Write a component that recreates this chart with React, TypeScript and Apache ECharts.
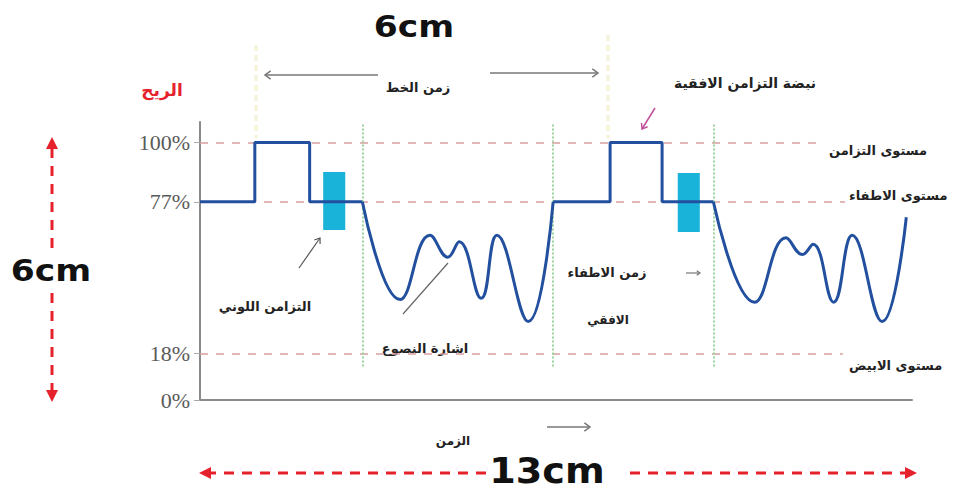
import React, { useEffect, useRef } from "react";
import * as echarts from "echarts";

// Signal trace values (x: time in arbitrary units 0..100, y: percent level)
const sync1X = [0, 7.7, 7.7, 15.4, 15.4, 22.8];
const sync1Y = [77, 77, 100, 100, 77, 77];
const luma1X = [22.8, 28.1, 32.3, 34.8, 36.4, 39.5, 41.7, 46.1, 49.6];
const luma1Y = [77, 39, 64, 55.5, 61.5, 39.5, 64, 30.5, 77];
const sync2X = [49.6, 57.6, 57.6, 64.9, 64.9, 72.1];
const sync2Y = [77, 77, 100, 100, 77, 77];
const luma2X = [72.1, 77.9, 82.3, 84.6, 86.1, 89.0, 91.6, 95.8, 99.2];
const luma2Y = [77, 38, 63, 56.5, 60.5, 38, 64, 30.5, 71];

// Reference levels
const levelTicks = [0, 18, 77, 100];
const syncLevel = 100;
const blankLevel = 77;
const whiteLevel = 18;
const levelEnds = [86.7, 90.6, 90.3]; // sync, blank, white dashed line ends

// Colour burst boxes [x0, y0, x1, y1]
const burst1 = [17.3, 88.6, 20.4, 66.0];
const burst2 = [67.1, 88.2, 70.2, 65.3];

// Vertical markers (green dotted)
const markerX = [22.8, 49.6, 72.1];
const markerTop = 107;
const markerBottom = 13;

const zip = (xs: number[], ys: number[]) => xs.map((x, i) => [x, ys[i]]);

const LINE_COLOR = "#22509e";
const RED = "#e5222c";
const GRAY = "#777";
const AR_FONT = "DejaVu Sans";

function openArrow(x1: number, y1: number, x2: number, y2: number, color: string, w = 1.5, head = 7) {
  const ang = Math.atan2(y2 - y1, x2 - x1);
  const a1 = ang + Math.PI * 0.8;
  const a2 = ang - Math.PI * 0.8;
  return [
    { type: "line", shape: { x1, y1, x2, y2 }, style: { stroke: color, lineWidth: w }, silent: true },
    {
      type: "polyline",
      shape: {
        points: [
          [x2 + head * Math.cos(a1), y2 + head * Math.sin(a1)],
          [x2, y2],
          [x2 + head * Math.cos(a2), y2 + head * Math.sin(a2)],
        ],
      },
      style: { stroke: color, lineWidth: w, fill: "none" },
      silent: true,
    },
  ];
}

function redDashArrow(x1: number, y1: number, x2: number, y2: number) {
  const ang = Math.atan2(y2 - y1, x2 - x1);
  const len = 12;
  const bx = x2 - len * Math.cos(ang);
  const by = y2 - len * Math.sin(ang);
  const px = -Math.sin(ang) * 6;
  const py = Math.cos(ang) * 6;
  return [
    { type: "line", shape: { x1, y1, x2: bx, y2: by }, style: { stroke: RED, lineWidth: 3, lineDash: [10, 8] }, silent: true },
    {
      type: "polygon",
      shape: { points: [[x2, y2], [bx + px, by + py], [bx - px, by - py]] },
      style: { fill: RED },
      silent: true,
    },
  ];
}

function label(text: string, x: number, y: number, opts: any = {}) {
  return {
    type: "text",
    x,
    y,
    scaleX: opts.scaleX ?? 1,
    silent: true,
    style: {
      text,
      fill: opts.color ?? "#222",
      font: `${opts.weight ?? "bold"} ${opts.size ?? 13}px "${opts.family ?? AR_FONT}"`,
      align: opts.align ?? "center",
      verticalAlign: "middle",
    },
  };
}

export default function App() {
  const ref = useRef<HTMLDivElement>(null);

  useEffect(() => {
    if (!ref.current) return;
    const chart = echarts.init(ref.current, null, { renderer: "svg" });

    const lineSeries = (name: string, data: number[][], smooth: boolean | number, extra: any = {}) => ({
      name,
      type: "line",
      data,
      smooth,
      symbol: "none",
      lineStyle: { color: LINE_COLOR, width: 3 },
      z: 5,
      ...extra,
    });

    const dashed = { color: "#d9a0a0", type: [8, 8], width: 1.5 };
    const green = { color: "#9bd39b", type: "dotted", width: 2 };

    const option: any = {
      animation: false,
      backgroundColor: "#fff",
      grid: { left: 200, right: 50, top: 122, bottom: 92 },
      xAxis: {
        type: "value",
        min: 0,
        max: 100,
        axisLine: { show: true, lineStyle: { color: "#8a8a8a", width: 2 } },
        axisTick: { show: false },
        axisLabel: { show: false },
        splitLine: { show: false },
      },
      yAxis: {
        type: "value",
        min: 0,
        max: 108,
        axisLine: { show: true, lineStyle: { color: "#8a8a8a", width: 2 } },
        axisTick: { show: true, customValues: levelTicks, length: 6, lineStyle: { color: "#aaa" } },
        axisLabel: {
          show: true,
          customValues: levelTicks,
          formatter: "{value}%",
          margin: 10,
          fontFamily: "Liberation Serif",
          fontSize: 22,
          color: "#5a5a5a",
        },
        splitLine: { show: false },
      },
      series: [
        lineSeries("sync1", zip(sync1X, sync1Y), false, {
          markLine: {
            silent: true,
            symbol: "none",
            label: { show: false },
            data: [
              [{ coord: [0, syncLevel], lineStyle: dashed }, { coord: [levelEnds[0], syncLevel] }],
              [{ coord: [0, blankLevel], lineStyle: dashed }, { coord: [levelEnds[1], blankLevel] }],
              [{ coord: [0, whiteLevel], lineStyle: dashed }, { coord: [levelEnds[2], whiteLevel] }],
              ...markerX.map((x) => [
                { coord: [x, markerTop], lineStyle: green },
                { coord: [x, markerBottom] },
              ]),
            ],
          },
          markArea: {
            silent: true,
            itemStyle: { color: "#19b3d9", opacity: 1 },
            data: [
              [{ coord: [burst1[0], burst1[1]] }, { coord: [burst1[2], burst1[3]] }],
              [{ coord: [burst2[0], burst2[1]] }, { coord: [burst2[2], burst2[3]] }],
            ],
          },
        }),
        lineSeries("luma1", zip(luma1X, luma1Y), 0.45),
        lineSeries("sync2", zip(sync2X, sync2Y), false),
        lineSeries("luma2", zip(luma2X, luma2Y), 0.45),
      ],
      graphic: [
        // faint line-time markers
        { type: "line", shape: { x1: 256, y1: 45, x2: 256, y2: 138 }, style: { stroke: "#f6f3d4", lineWidth: 3, lineDash: [6, 4] }, silent: true },
        { type: "line", shape: { x1: 608, y1: 35, x2: 608, y2: 138 }, style: { stroke: "#f6f3d4", lineWidth: 3, lineDash: [6, 4] }, silent: true },
        // big measurement labels
        label("6cm", 414, 27, { size: 30, weight: "bold", family: "DejaVu Sans", color: "#111", scaleX: 1.15 }),
        label("6cm", 51, 271, { size: 30, weight: "bold", family: "DejaVu Sans", color: "#111", scaleX: 1.15 }),
        label("13cm", 547, 471, { size: 36, weight: "bold", family: "DejaVu Sans", color: "#111", scaleX: 1.06 }),
        // red dashed dimension arrows
        ...redDashArrow(52, 248, 52, 137),
        ...redDashArrow(52, 293, 52, 402),
        ...redDashArrow(486, 473, 199, 473),
        ...redDashArrow(630, 473, 917, 473),
        // y title
        label("الريح", 162, 90, { size: 17, color: RED }),
        // line time
        ...openArrow(378, 75, 265, 75, GRAY),
        ...openArrow(490, 73, 598, 73, GRAY),
        label("زمن الخط", 418, 87, { size: 13 }),
        // sync pulse
        label("نبضة التزامن الافقية", 745, 83, { size: 14 }),
        ...openArrow(655, 108, 642, 129, "#c0509a", 1.5, 6),
        // level names
        label("مستوى التزامن", 878, 150, { size: 13 }),
        label("مستوى الاطفاء", 849, 195, { size: 13, align: "left" }),
        label("مستوى الابيض", 849, 365, { size: 13, align: "left" }),
        // burst
        label("التزامن اللوني", 265, 306, { size: 13 }),
        ...openArrow(299, 268, 320, 238, "#555", 1.2, 6),
        // luminance
        label("اشارة النصوع", 425, 348, { size: 13 }),
        { type: "line", shape: { x1: 403, y1: 314, x2: 448, y2: 263 }, style: { stroke: "#666", lineWidth: 1.2 }, silent: true },
        // blanking time
        label("زمن الاطفاء", 607, 272, { size: 13 }),
        label("الافقي", 608, 320, { size: 12 }),
        ...openArrow(686, 273, 700, 273, GRAY, 1.2, 4),
        // time
        label("الزمن", 453, 441, { size: 12 }),
        ...openArrow(547, 427, 590, 427, GRAY),
      ],
    };

    chart.setOption(option);
    return () => chart.dispose();
  }, []);

  return (
    <div
      ref={ref}
      style={{ position: "fixed", left: 0, top: 0, width: 962, height: 492, background: "#fff" }}
    />
  );
}
